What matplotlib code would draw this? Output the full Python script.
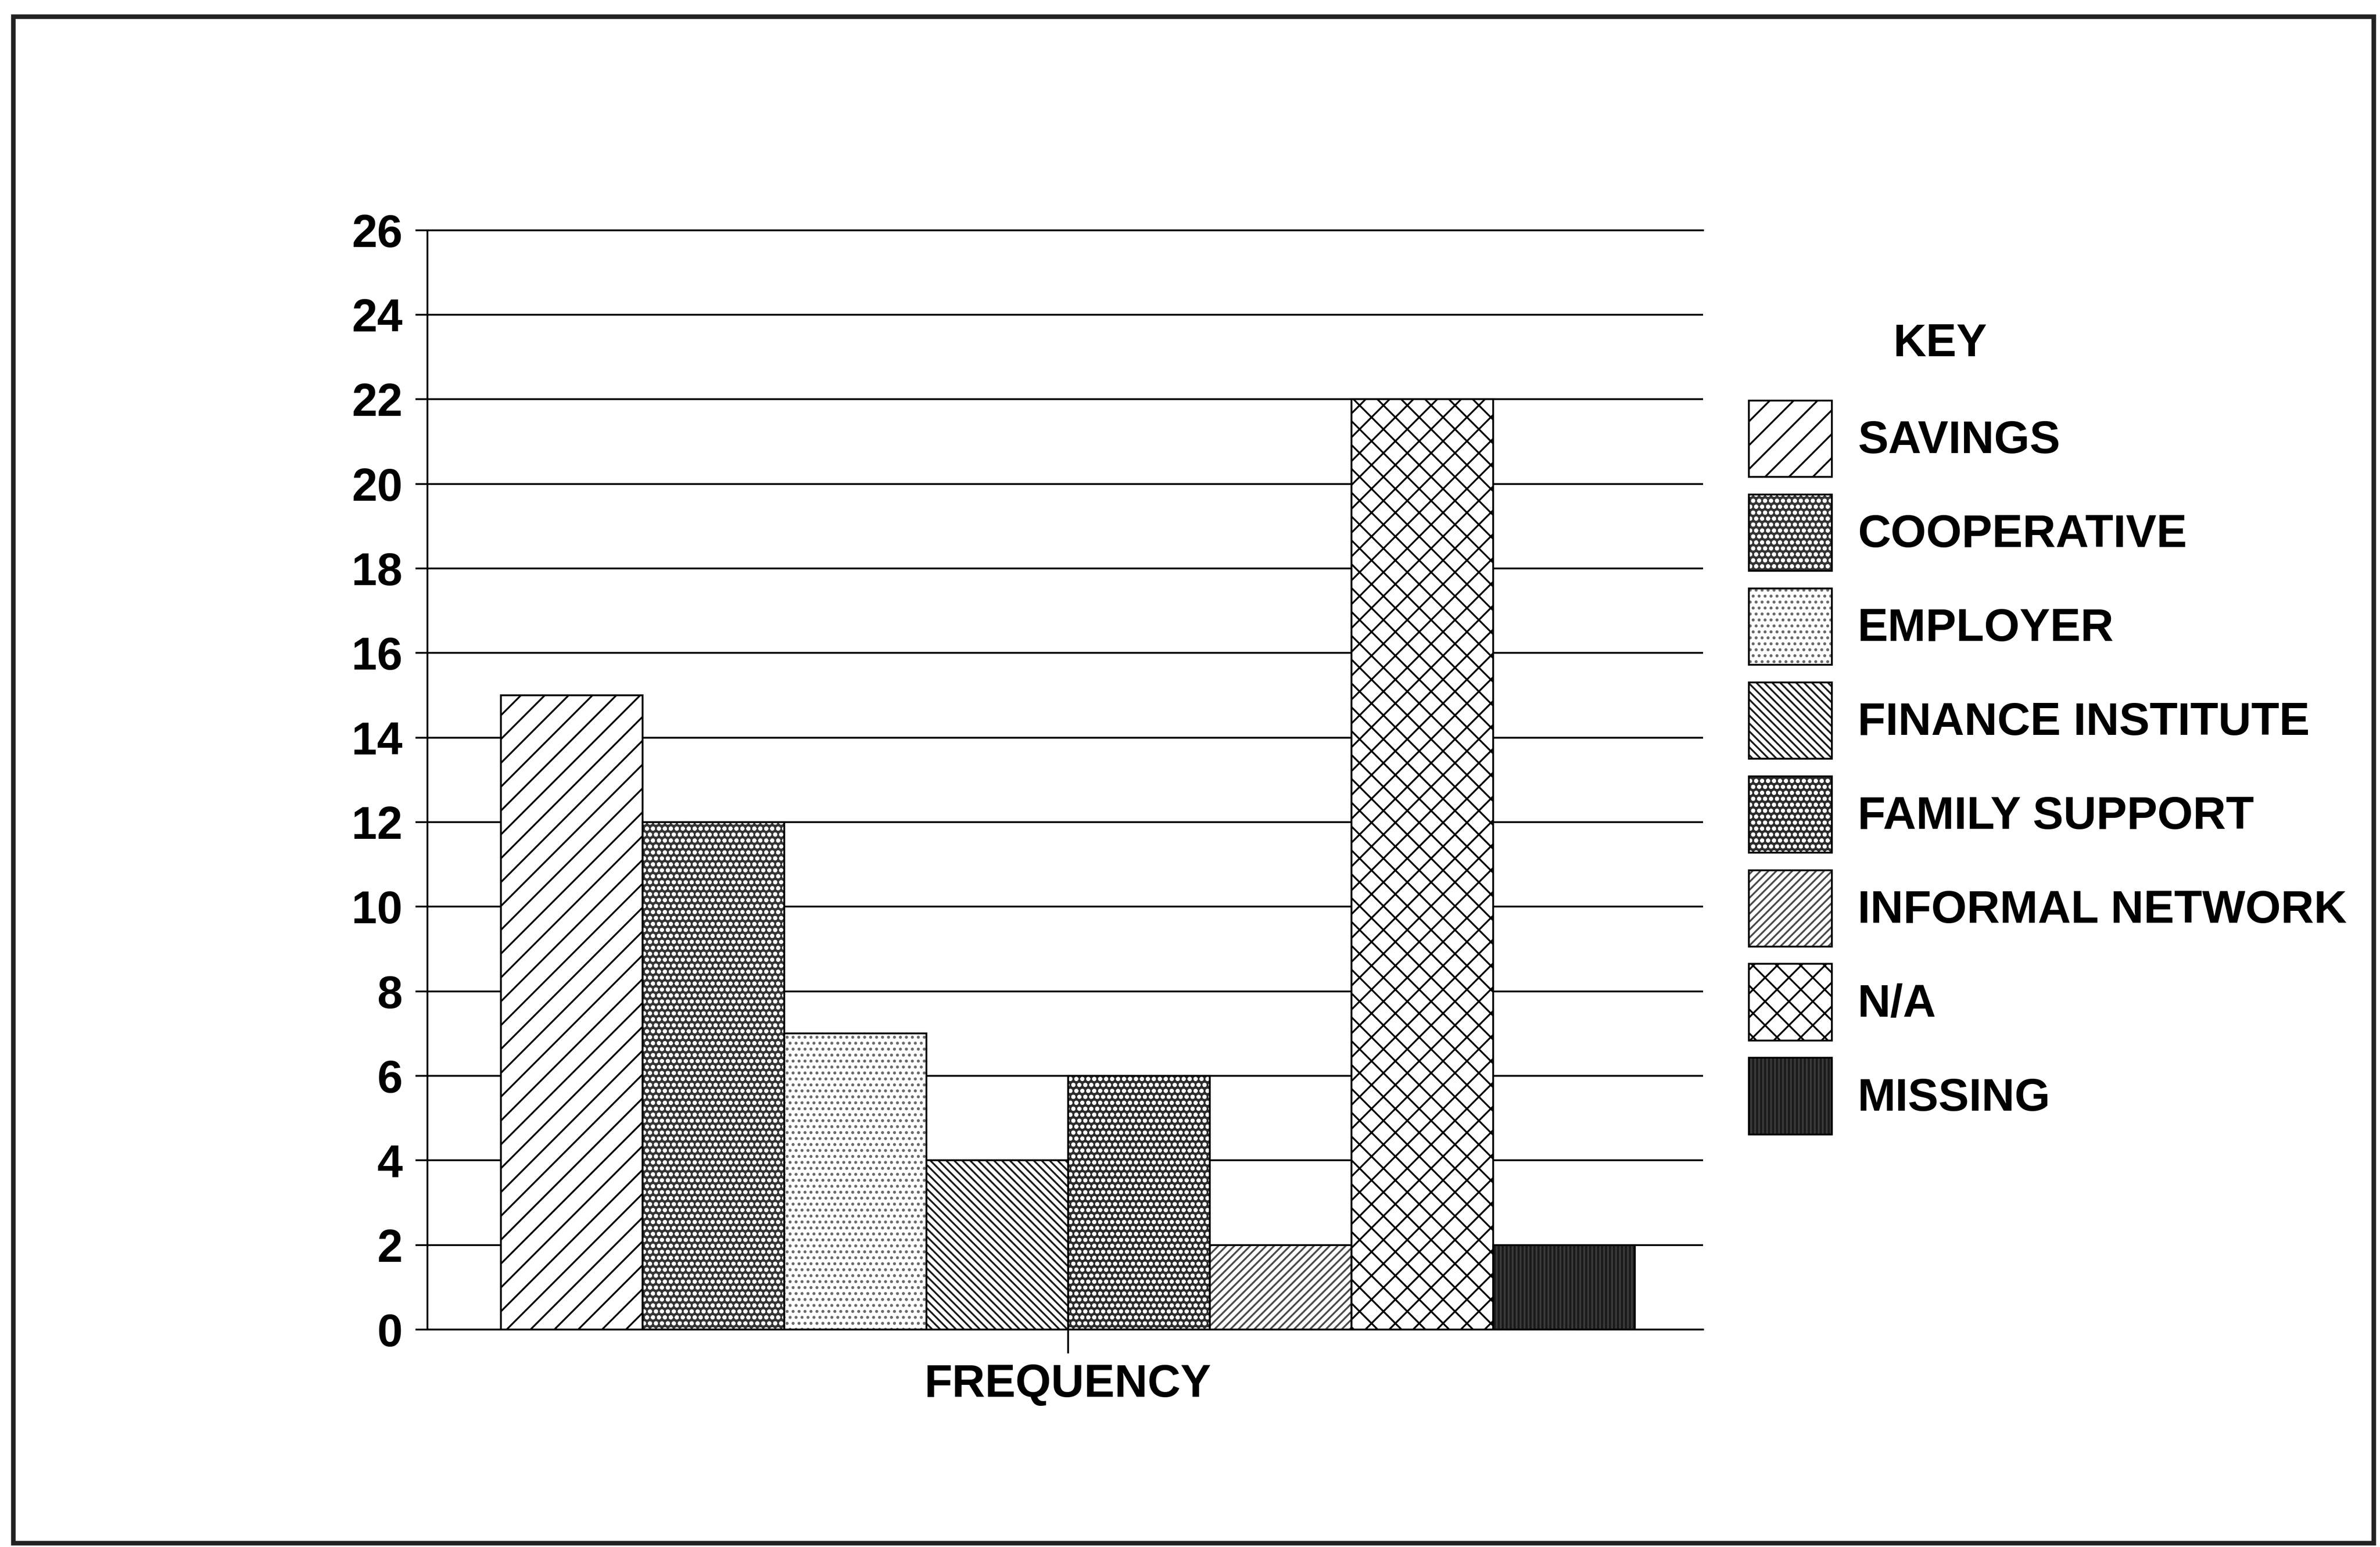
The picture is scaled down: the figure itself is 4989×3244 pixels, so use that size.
import matplotlib
matplotlib.use("Agg")
import matplotlib.pyplot as plt
import matplotlib.patches as mpatches
from matplotlib.legend_handler import HandlerTuple

matplotlib.rcParams["font.family"] = ["Liberation Sans", "DejaVu Sans"]
matplotlib.rcParams["font.weight"] = "bold"
matplotlib.rcParams["hatch.linewidth"] = 0.9

# Sources of finance and how many respondents used each
sources = ["SAVINGS", "COOPERATIVE", "EMPLOYER", "FINANCE INSTITUTE",
           "FAMILY SUPPORT", "INFORMAL NETWORK", "N/A", "MISSING"]
frequency = [15, 12, 7, 4, 6, 2, 22, 2]
y_ticks = list(range(0, 27, 2))
x_label = "FREQUENCY"

# fill colour, hatch colour, hatch pattern for each source
faces = ["white", "#343434", "white", "white", "#2c2c2c", "white", "white", "#1a1a1a"]
hatch_cols = ["black", "white", "#6a6a6a", "#1a1a1a", "white", "#4a4a4a", "black", "#3a3a3a"]
hatches = ["//", "oooo", "....", "\\" * 6, "oooo", "/" * 6, "xx", "||||||"]

font_size = 23

fig = plt.figure(figsize=(4989 / 300, 3244 / 300), dpi=300)
ax = fig.add_axes([0.1796, 0.1406, 0.536, 0.7106])

handles = []
for i, val in enumerate(frequency):
    ax.bar(i, val, width=1, color=faces[i], edgecolor=hatch_cols[i],
           hatch=hatches[i], linewidth=0, zorder=2)
    ax.bar(i, val, width=1, fill=False, edgecolor="k", linewidth=0.9, zorder=3)
    fill_patch = mpatches.Patch(facecolor=faces[i], edgecolor=hatch_cols[i],
                                hatch=hatches[i], linewidth=0)
    edge_patch = mpatches.Patch(fill=False, edgecolor="k", linewidth=0.9)
    handles.append((fill_patch, edge_patch))

ax.set_xlim(-1.018, 7.98)
ax.set_ylim(0, 26)
ax.set_yticks(y_ticks)
ax.set_xticks([(len(frequency) - 1) / 2])
ax.set_xticklabels([x_label])

ax.yaxis.grid(True, color="k", linewidth=0.9)
ax.set_axisbelow(True)

ax.spines["right"].set_visible(False)
for side in ["left", "bottom", "top"]:
    ax.spines[side].set_linewidth(0.9)

ax.tick_params(axis="y", direction="out", length=6, width=0.9, pad=6.5,
               labelsize=font_size)
ax.tick_params(axis="x", direction="out", length=12, width=0.9, pad=5,
               labelsize=font_size)

# overlay the hatch layer and the black outline in each key box
leg = ax.legend(handles, sources, handler_map={tuple: HandlerTuple(ndivide=1)},
                loc="upper left", bbox_to_anchor=(0.7348, 0.7411),
                bbox_transform=fig.transFigure, frameon=False,
                fontsize=font_size, handlelength=1.82, handleheight=2.2,
                handletextpad=0.56, labelspacing=0.38, borderpad=0,
                borderaxespad=0)

fig.text(4067 / 4989, 1 - 722 / 3244, "KEY", ha="center", va="center",
         fontsize=font_size, fontweight="bold")

# border round the whole figure
frame = mpatches.Rectangle((28 / 4989, 1 - 3236 / 3244), (4976 - 28) / 4989,
                           (3236 - 35) / 3244, transform=fig.transFigure,
                           fill=False, edgecolor="#222222", linewidth=2.3)
fig.add_artist(frame)

fig.savefig("out.png", dpi=300, facecolor="white")
